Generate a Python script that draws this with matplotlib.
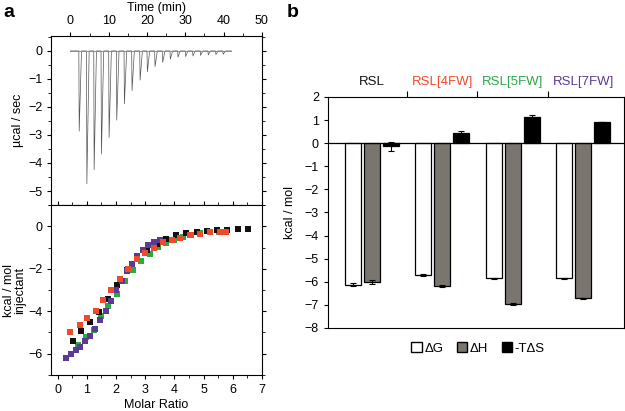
import matplotlib
matplotlib.use("Agg")
import matplotlib.pyplot as plt
from matplotlib.patches import Patch
import numpy as np

plt.rcParams["font.family"] = ["Liberation Sans", "DejaVu Sans"]
plt.rcParams["font.size"] = 9

# ---- panel a, top: raw ITC trace (injection times and peak heights)
inj_time = [2.2, 4.2, 6.1, 8.0, 10.0, 12.0, 14.0, 16.0, 18.1, 20.0,
            22.0, 24.0, 26.0, 28.0, 30.0, 31.9, 33.9, 35.9, 37.9, 39.8]
inj_peak = [-2.86, -4.74, -4.24, -3.68, -3.09, -2.47, -1.89, -1.42, -1.04, -0.74,
            -0.56, -0.41, -0.29, -0.22, -0.20, -0.18, -0.16, -0.14, -0.13, -0.12]
baseline_end = 42.0

# ---- panel a, bottom: integrated heats
rsl_x = [0.51, 0.80, 1.11, 1.43, 1.73, 2.05, 2.39, 2.73, 3.07, 3.39,
         3.72, 4.06, 4.41, 4.78, 5.12, 5.46, 5.80, 6.17, 6.52]
rsl_y = [-5.38, -4.91, -4.50, -4.05, -3.42, -2.78, -2.04, -1.41, -1.10, -0.83,
         -0.58, -0.42, -0.31, -0.27, -0.20, -0.19, -0.16, -0.13, -0.13]
fw4_x = [0.43, 0.76, 1.00, 1.31, 1.54, 1.82, 2.13, 2.42, 2.71, 3.01,
         3.30, 3.60, 3.92, 4.21, 4.55, 4.89, 5.23, 5.57, 5.77]
fw4_y = [-5.00, -4.66, -4.32, -3.97, -3.45, -3.01, -2.46, -2.01, -1.54, -1.26,
         -1.02, -0.74, -0.66, -0.55, -0.42, -0.35, -0.28, -0.27, -0.27]
fw5_x = [0.68, 0.97, 1.23, 1.48, 1.74, 2.02, 2.31, 2.59, 2.87, 3.15,
         3.44, 3.72, 4.00, 4.29, 4.57, 4.89, 5.23, 5.52]
fw5_y = [-5.57, -5.23, -4.87, -4.24, -3.74, -3.19, -2.59, -2.04, -1.62, -1.29,
         -0.99, -0.78, -0.66, -0.50, -0.39, -0.33, -0.28, -0.28]
fw7_x = [0.28, 0.46, 0.63, 0.77, 0.94, 1.11, 1.29, 1.46, 1.65, 1.82,
         1.99, 2.20, 2.37, 2.56, 2.73, 2.92, 3.11, 3.30, 3.50]
fw7_y = [-6.20, -6.00, -5.84, -5.68, -5.42, -5.15, -4.84, -4.43, -3.97, -3.53,
         -3.01, -2.59, -2.12, -1.77, -1.41, -1.13, -0.86, -0.75, -0.63]

# ---- panel b: thermodynamic parameters
groups = ["RSL", "RSL[4FW]", "RSL[5FW]", "RSL[7FW]"]
group_colors = ["#111111", "#f0492b", "#2ca847", "#5b3a93"]
dG = [-6.12, -5.71, -5.85, -5.85]
dG_err = [0.08, 0.04, 0.03, 0.03]
dH = [-6.02, -6.18, -6.96, -6.72]
dH_err = [0.08, 0.04, 0.04, 0.03]
mTdS = [-0.14, 0.43, 1.12, 0.92]
mTdS_err = [0.18, 0.08, 0.09, 0.0]

fig = plt.figure(figsize=(6.25, 4.11), dpi=100)

# top trace
ax1 = fig.add_axes([0.082, 0.5012, 0.337, 0.411])
tt, yy = [0.0], [0.0]
for t, p in zip(inj_time, inj_peak):
    tt += [t, t + 0.1, t + 0.7]
    yy += [0.0, p, 0.0]
tt.append(baseline_end)
yy.append(0.0)
ax1.plot(tt, yy, color="#555555", lw=0.5)
ax1.plot([0, baseline_end], [0, 0], color="#e8635a", lw=0.7)
ax1.set_xlim(-5, 50)
ax1.set_ylim(-5.5, 0.53)
ax1.xaxis.tick_top()
ax1.xaxis.set_label_position("top")
ax1.set_xticks(range(0, 51, 10))
ax1.set_xticks(range(5, 50, 10), minor=True)
ax1.set_yticks([0, -1, -2, -3, -4, -5])
ax1.set_yticks(np.arange(-5.5, 0.6, 0.5), minor=True)
ax1.set_xlabel("Time (min)", labelpad=3)
ax1.set_ylabel("µcal / sec", labelpad=3)
ax1.tick_params(which="both", direction="out", right=True, top=True, bottom=False, length=3)
ax1.tick_params(which="minor", length=2)

# bottom isotherm
ax2 = fig.add_axes([0.082, 0.0876, 0.337, 0.4136])
ms = 22
ax2.scatter(fw5_x, fw5_y, marker="s", s=ms, color="#2ca847", lw=0, zorder=2)
ax2.scatter(rsl_x, rsl_y, marker="s", s=ms, color="#111111", lw=0, zorder=3)
ax2.scatter(fw7_x, fw7_y, marker="s", s=ms, color="#5b3a93", lw=0, zorder=4)
ax2.scatter(fw4_x, fw4_y, marker="s", s=ms, color="#f0492b", lw=0, zorder=5)
ax2.set_xlim(-0.22, 7)
ax2.set_ylim(-7, 1)
ax2.set_xticks(range(0, 8))
ax2.set_xticks(np.arange(0.5, 7, 1), minor=True)
ax2.set_yticks([0, -2, -4, -6])
ax2.set_yticks([1, -1, -3, -5, -7], minor=True)
ax2.set_xlabel("Molar Ratio", labelpad=2)
ax2.set_ylabel("kcal / mol\ninjectant", labelpad=1, linespacing=1.0)
ax2.tick_params(which="both", direction="out", right=True, top=True, length=3)
ax2.tick_params(which="minor", length=2)

# panel b bars
ax3 = fig.add_axes([0.5248, 0.202, 0.4736, 0.562])
x = np.arange(len(groups))
off, w = 0.27, 0.23
ek = dict(ecolor="black", elinewidth=0.8, capsize=2.5, capthick=0.8)
ax3.bar(x - off, dG, w, yerr=dG_err, color="white", edgecolor="black", lw=0.9,
        error_kw=ek, label="ΔG")
ax3.bar(x, dH, w, yerr=dH_err, color="#7b7570", edgecolor="black", lw=0.9,
        error_kw=ek, label="ΔH")
ax3.bar(x + off, mTdS, w, yerr=mTdS_err, color="black", edgecolor="black", lw=0.9,
        error_kw=ek, label="-TΔS")
ax3.axhline(0, color="black", lw=0.9)
ax3.set_xlim(-0.62, 3.58)
ax3.set_ylim(-8, 2)
ax3.set_yticks(range(-8, 3))
ax3.set_ylabel("kcal / mol", labelpad=6)
ax3.xaxis.tick_top()
ax3.set_xticks([0.5, 1.5, 2.5])
ax3.set_xticklabels([])
ax3.tick_params(axis="x", direction="out", length=4)
ax3.tick_params(axis="y", direction="out", right=True, length=3)
for xi, name, c in zip(x, groups, group_colors):
    ax3.text(xi, 1.04, name, color=c, ha="center", va="bottom",
             transform=ax3.get_xaxis_transform(), fontsize=9.5)

fig.legend(handles=[Patch(facecolor="white", edgecolor="black", label="ΔG"),
                    Patch(facecolor="#7b7570", edgecolor="black", label="ΔH"),
                    Patch(facecolor="black", edgecolor="black", label="-TΔS")],
           loc="center", bbox_to_anchor=(0.765, 0.152), ncol=3, frameon=False,
           handlelength=0.8, handleheight=0.8, handletextpad=0.2,
           columnspacing=1.0, fontsize=9.5)

fig.text(0.005, 0.99, "a", fontsize=14, fontweight="bold", va="top")
fig.text(0.458, 0.99, "b", fontsize=14, fontweight="bold", va="top")

fig.savefig("out.png", dpi=100)
